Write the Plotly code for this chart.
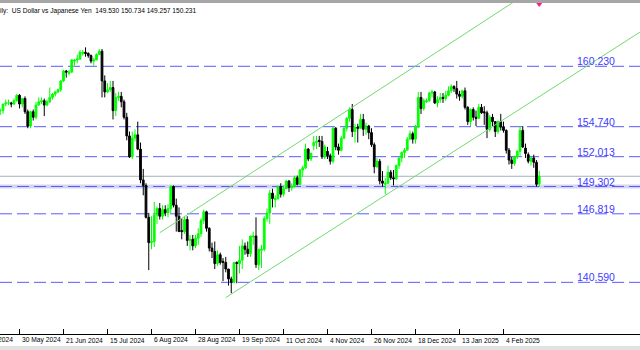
import pandas as pd
import plotly.graph_objects as go

# ---------------- data ----------------
DATES = [d.strftime("%Y-%m-%d") for d in pd.bdate_range("2024-05-08", "2025-02-21")
         if d.strftime("%m-%d") not in ("12-25", "01-01")]

OPEN = [154.6, 155.6, 155.5, 155.8, 156.2, 156.4, 154.9,
        155.4, 155.6, 156.2, 156.2, 156.8, 156.9, 156.9, 156.8, 157.1,
        157.6, 156.8, 157.3, 156.1, 154.8, 156.1, 155.6, 156.7, 157.0, 157.1,
        156.7, 157.0, 157.4, 157.7, 157.9, 158.1, 158.9, 159.8, 159.6, 159.7,
        160.7, 160.8, 160.9, 161.4, 161.5, 161.4, 161.2, 160.7, 160.8, 161.3,
        161.6, 158.9, 157.9, 158.1, 158.3, 156.2, 157.4, 157.5, 157.0, 155.6,
        153.9, 152.0, 153.7, 154.0, 152.7, 149.9, 149.4, 146.5, 144.2, 144.3,
        146.7, 147.3, 146.6, 147.2, 146.9, 147.3, 149.3, 147.6, 146.6, 145.3,
        145.2, 146.3, 144.4, 144.5, 143.9, 144.6, 145.0, 146.2, 147.0, 145.5,
        143.7, 143.4, 142.3, 143.1, 142.5, 142.4, 141.8, 140.9, 140.6, 142.4,
        142.3, 142.6, 143.9, 143.6, 143.2, 144.7, 144.8, 142.2, 143.5, 143.6,
        146.4, 146.9, 148.7, 148.1, 148.2, 149.3, 148.6, 149.1, 149.8, 149.2,
        149.3, 150.1, 149.5, 150.8, 151.0, 152.7, 151.8, 153.0, 153.3, 153.5,
        153.4, 152.0, 152.5, 152.1, 151.6, 154.6, 152.9, 152.6, 153.7, 154.6,
        155.5, 156.3, 154.3, 154.7, 154.6, 155.4, 154.5, 154.8, 154.2, 153.1,
        151.1, 151.6, 149.8, 149.5, 149.6, 150.6, 150.1, 150.0, 151.2, 151.9,
        152.4, 152.6, 153.6, 154.1, 153.6, 154.7, 157.4, 156.4, 157.0, 157.1,
        157.8, 157.9, 156.9, 157.2, 157.4, 157.3, 157.6, 158.0, 158.4, 158.2,
        157.7, 157.5, 158.0, 156.5, 155.2, 156.3, 155.6, 155.5, 156.5, 156.1,
        156.0, 154.5, 155.6, 155.2, 154.3, 155.2, 154.7, 154.4, 152.6, 151.7,
        151.4, 152.0, 152.5, 154.4, 152.8, 152.2, 151.6, 151.9, 151.5, 149.530]

HIGH = [155.6, 155.9, 155.9, 156.3, 156.8, 156.5, 155.6,
        155.9, 156.3, 156.4, 156.8, 157.2, 157.2, 157.0, 157.3, 157.7,
        157.7, 157.3, 157.5, 156.3, 156.2, 156.3, 157.0, 157.4, 157.4, 157.3,
        157.2, 158.3, 157.8, 158.0, 158.2, 159.0, 159.9, 159.9, 159.9, 160.9,
        160.9, 161.3, 161.7, 161.7, 161.95, 161.5, 161.3, 161.0, 161.4, 161.8,
        161.8, 159.4, 158.7, 158.9, 158.9, 157.8, 157.9, 157.9, 157.2, 156.0,
        154.3, 154.3, 154.5, 155.2, 153.3, 150.9, 149.6, 146.9, 146.6, 147.9,
        147.5, 147.8, 147.6, 147.6, 147.7, 149.4, 149.4, 148.2, 147.4, 146.4,
        146.6, 146.6, 144.9, 144.9, 144.9, 145.5, 146.4, 147.2, 147.1, 145.6,
        144.2, 144.3, 143.5, 143.3, 142.8, 142.9, 141.8, 141.1, 142.4, 142.5,
        143.9, 144.5, 144.2, 144.3, 144.8, 145.2, 146.5, 143.6, 144.0, 146.6,
        147.3, 149.0, 149.1, 148.5, 149.4, 149.6, 149.4, 149.9, 149.9, 149.6,
        150.3, 150.3, 150.9, 151.2, 153.2, 152.8, 152.4, 153.9, 153.9, 153.9,
        153.9, 153.1, 152.9, 152.3, 154.7, 154.7, 153.2, 153.9, 154.7, 155.6,
        156.5, 156.8, 155.0, 155.0, 155.9, 155.9, 155.1, 154.9, 154.6, 153.3,
        151.9, 151.8, 150.7, 150.1, 151.2, 150.8, 150.8, 151.3, 151.9, 152.5,
        152.8, 153.8, 154.4, 154.3, 154.9, 157.9, 157.9, 157.3, 157.3, 157.9,
        158.1, 158.0, 157.5, 157.8, 157.8, 158.0, 158.4, 158.6, 158.5, 158.9,
        158.0, 158.1, 158.3, 156.6, 156.4, 156.5, 156.2, 156.8, 156.8, 156.6,
        156.2, 155.8, 155.9, 155.2, 155.3, 155.9, 155.2, 154.5, 152.8, 152.0,
        152.1, 152.6, 154.8, 154.8, 153.2, 152.4, 152.0, 152.2, 151.7, 150.734]

LOW = [154.5, 155.2, 155.3, 155.6, 156.1, 154.7, 153.6,
       155.2, 155.5, 155.8, 155.9, 156.6, 156.7, 156.5, 156.7, 157.0,
       156.4, 156.5, 155.9, 154.6, 154.6, 155.3, 155.4, 156.7, 156.8, 155.7,
       156.6, 156.9, 157.2, 157.5, 157.8, 157.9, 158.8, 159.2, 159.4, 159.6,
       160.3, 160.5, 160.8, 161.2, 161.1, 161.0, 160.5, 160.3, 160.8, 161.3,
       157.4, 157.4, 157.8, 157.9, 155.4, 155.7, 157.1, 156.5, 155.4, 153.5,
       151.9, 151.8, 153.4, 152.6, 149.6, 148.5, 146.4, 141.7, 143.6, 143.8,
       145.9, 146.3, 146.3, 146.6, 146.5, 146.9, 147.4, 145.2, 145.2, 144.5,
       145.0, 143.9, 143.5, 143.5, 143.7, 144.0, 144.7, 145.9, 145.2, 143.4,
       142.8, 141.8, 142.1, 142.2, 140.7, 141.5, 140.3, 139.6, 140.5, 140.5,
       141.4, 141.8, 143.1, 142.9, 142.9, 144.0, 141.9, 141.7, 141.9, 143.4,
       146.1, 145.9, 147.4, 147.4, 148.1, 148.3, 148.4, 149.1, 148.8, 148.9,
       149.2, 149.4, 149.4, 150.2, 150.9, 151.6, 151.6, 152.6, 152.7, 152.9,
       151.8, 151.8, 151.8, 151.3, 151.4, 152.6, 152.2, 152.5, 153.6, 154.3,
       155.2, 153.8, 153.3, 153.3, 154.6, 153.9, 154.0, 153.6, 152.9, 150.5,
       151.0, 149.5, 149.3, 148.6, 149.5, 149.9, 149.4, 149.9, 150.9, 151.5,
       151.9, 152.6, 153.6, 153.2, 153.2, 154.6, 155.9, 156.2, 156.9, 157.0,
       157.4, 156.8, 156.5, 156.9, 156.9, 157.1, 157.5, 157.8, 157.9, 157.3,
       157.1, 157.3, 156.3, 154.9, 154.8, 155.3, 154.8, 155.5, 155.9, 154.9,
       153.7, 154.3, 154.8, 153.8, 154.1, 154.4, 154.2, 152.3, 151.3, 150.9,
       151.2, 151.8, 152.1, 152.8, 151.9, 151.4, 151.2, 151.0, 149.3, 149.257]

CLOSE = [155.5, 155.5, 155.8, 156.2, 156.4, 154.9, 155.4,
         155.6, 156.2, 156.2, 156.8, 156.9, 156.9, 156.8, 157.1, 157.6,
         156.8, 157.3, 156.1, 154.8, 156.1, 155.6, 156.7, 157.0, 157.1, 156.7,
         157.0, 157.4, 157.7, 157.9, 158.1, 158.9, 159.8, 159.7, 159.7, 160.8,
         160.8, 160.9, 161.5, 161.5, 161.4, 161.2, 160.7, 160.8, 161.3, 161.6,
         158.9, 157.9, 158.1, 158.3, 156.2, 157.4, 157.5, 157.0, 155.6, 153.9,
         152.0, 153.7, 154.0, 152.7, 149.9, 149.4, 146.5, 144.2, 144.3, 146.7,
         147.3, 146.6, 147.2, 146.9, 147.3, 149.3, 147.6, 146.6, 145.2, 145.2,
         146.3, 144.4, 144.5, 143.9, 144.6, 145.0, 146.2, 147.0, 145.5, 143.7,
         143.4, 142.3, 143.1, 142.4, 142.4, 141.8, 140.9, 140.6, 142.4, 142.3,
         142.6, 143.9, 143.6, 143.2, 144.8, 144.8, 142.2, 143.6, 143.6, 146.4,
         146.9, 148.7, 148.2, 148.2, 149.3, 148.6, 149.1, 149.8, 149.2, 149.3,
         150.1, 149.5, 150.8, 151.0, 152.7, 151.8, 152.3, 153.3, 153.4, 153.4,
         152.0, 152.9, 152.1, 151.6, 154.6, 152.9, 152.6, 153.7, 154.6, 155.5,
         156.3, 154.3, 154.7, 154.6, 155.4, 154.5, 154.8, 154.2, 153.1, 151.1,
         151.6, 149.8, 149.6, 149.6, 150.6, 150.1, 150.0, 151.2, 151.9, 152.4,
         152.6, 153.6, 154.1, 153.6, 154.7, 157.4, 156.4, 157.1, 157.1, 157.8,
         157.9, 156.9, 157.2, 157.4, 157.3, 157.6, 158.0, 158.4, 158.2, 157.7,
         157.5, 158.0, 156.5, 155.2, 156.3, 155.6, 155.5, 156.5, 156.0, 156.0,
         154.5, 155.6, 155.2, 154.3, 155.2, 154.7, 154.4, 152.6, 151.7, 151.4,
         152.0, 152.5, 154.4, 152.9, 152.3, 151.6, 151.9, 151.5, 149.5, 150.231]

LEVELS = [160.230, 154.740, 152.013, 149.302, 146.819, 140.590]
HIGHLIGHT_LEVEL = 149.302
BID = 150.231

TICK_DATES = ["2024-05-08", "2024-05-30", "2024-06-21", "2024-07-15", "2024-08-06",
              "2024-08-28", "2024-09-19", "2024-10-11", "2024-11-04", "2024-11-26",
              "2024-12-18", "2025-01-13", "2025-02-04"]

# channel anchors: (date, price)
CH_UPPER = [("2024-08-09", 145.1), ("2024-12-19", 160.42)]
CH_LOWER = [("2024-09-12", 139.2), ("2025-02-21", 157.47)]

TITLE = "ily:\u00a0\u00a0US Dollar vs Japanese Yen\u00a0\u00a0"

# ---------------- figure ----------------
W, H = 640, 350
MT, MB = 3, 16
PH = H - MT - MB
XR = [8.909, 241.636]
YR = [135.893, 165.984]

idx = {d: i for i, d in enumerate(DATES)}

fig = go.Figure()
fig.add_trace(go.Candlestick(
    x=DATES, open=OPEN, high=HIGH, low=LOW, close=CLOSE,
    increasing=dict(line=dict(color="#00ff00", width=1), fillcolor="#00ff00"),
    decreasing=dict(line=dict(color="#000000", width=1), fillcolor="#000000"),
    whiskerwidth=0, showlegend=False, hoverinfo="skip"))

shapes = []
# highlighted band under one level
shapes.append(dict(type="line", xref="paper", yref="y", x0=0, x1=1,
                   y0=HIGHLIGHT_LEVEL, y1=HIGHLIGHT_LEVEL,
                   line=dict(color="#d4d4f4", width=4), layer="below"))
# bid line
shapes.append(dict(type="line", xref="paper", yref="y", x0=0, x1=1, y0=BID, y1=BID,
                   line=dict(color="#a8b0bc", width=1), layer="below"))
for lv in LEVELS:
    shapes.append(dict(type="line", xref="paper", yref="y", x0=0, x1=1, y0=lv, y1=lv,
                       line=dict(color="#5a5aff", width=1, dash="12px,5px"), layer="below"))


def ray(anchors):
    (d0, p0), (d1, p1) = anchors
    i0, i1 = idx[d0], idx[d1]
    slope = (p1 - p0) / (i1 - i0)
    xe = XR[1]
    return dict(type="line", xref="x", yref="y", x0=i0, y0=p0, x1=xe,
                y1=p0 + slope * (xe - i0), line=dict(color="#74d874", width=1))


shapes.append(ray(CH_UPPER))
shapes.append(ray(CH_LOWER))


# window frame strips (pixel rows converted to paper units)
def py(pix):
    return (H - MB - pix) / PH


shapes.append(dict(type="rect", xref="paper", yref="paper", x0=-0.01, x1=1.01,
                   y0=py(3), y1=py(0), fillcolor="#a6a6a6", line=dict(width=0)))
shapes.append(dict(type="rect", xref="paper", yref="paper", x0=-0.01, x1=1.01,
                   y0=py(350), y1=py(346), fillcolor="#e2e2e2", line=dict(width=0)))
# last-bar marker
shapes.append(dict(type="path", xref="x", yref="paper", xsizemode="pixel", ysizemode="pixel",
                   xanchor=len(DATES) - 1, yanchor=1, path="M-3,0 L3,0 L0,-4 Z",
                   fillcolor="#ff1a8c", line=dict(width=0)))

annotations = []
for lv in LEVELS:
    annotations.append(dict(xref="paper", yref="y", x=575 / W, y=lv, text=f"{lv:.3f}",
                            showarrow=False, xanchor="left", yanchor="bottom", yshift=-3,
                            font=dict(family="Arial, Liberation Sans", size=10.5, color="#3c3cff")))


def fmt(d):
    t = pd.Timestamp(d)
    return f"{t.day} {t.strftime('%b %Y')}"


tick_in = [d for d in TICK_DATES if XR[0] <= idx[d] <= XR[1]]
for d in TICK_DATES:
    px = (idx[d] - XR[0]) / (XR[1] - XR[0])
    annotations.append(dict(xref="paper", yref="paper", x=px, y=py(340), text=fmt(d),
                            showarrow=False, xanchor="left", yanchor="middle", xshift=0,
                            font=dict(family="Arial, Liberation Sans", size=6.7, color="#000000")))

header = TITLE + " ".join(f"{v:.3f}" for v in (OPEN[-1], HIGH[-1], LOW[-1], CLOSE[-1]))
annotations.append(dict(xref="paper", yref="paper", x=0, y=py(10.7), text=header,
                        showarrow=False, xanchor="left", yanchor="middle", xshift=-2,
                        font=dict(family="Arial, Liberation Sans", size=6.6, color="#000000")))

fig.update_layout(
    width=W, height=H, margin=dict(l=0, r=0, t=MT, b=MB),
    paper_bgcolor="white", plot_bgcolor="white", boxgap=0.1,
    shapes=shapes, annotations=annotations, showlegend=False,
    xaxis=dict(type="category", range=XR, rangeslider=dict(visible=False),
               showgrid=False, zeroline=False, showline=True, linecolor="#000000",
               linewidth=1, tickmode="array", tickvals=tick_in, ticktext=["" for _ in tick_in],
               ticks="inside", ticklen=5, tickcolor="#000000", tickwidth=1,
               showticklabels=False, fixedrange=True),
    yaxis=dict(range=YR, showgrid=False, zeroline=False, showline=False,
               showticklabels=False, ticks="", fixedrange=True),
)

fig.write_html("out.html")
